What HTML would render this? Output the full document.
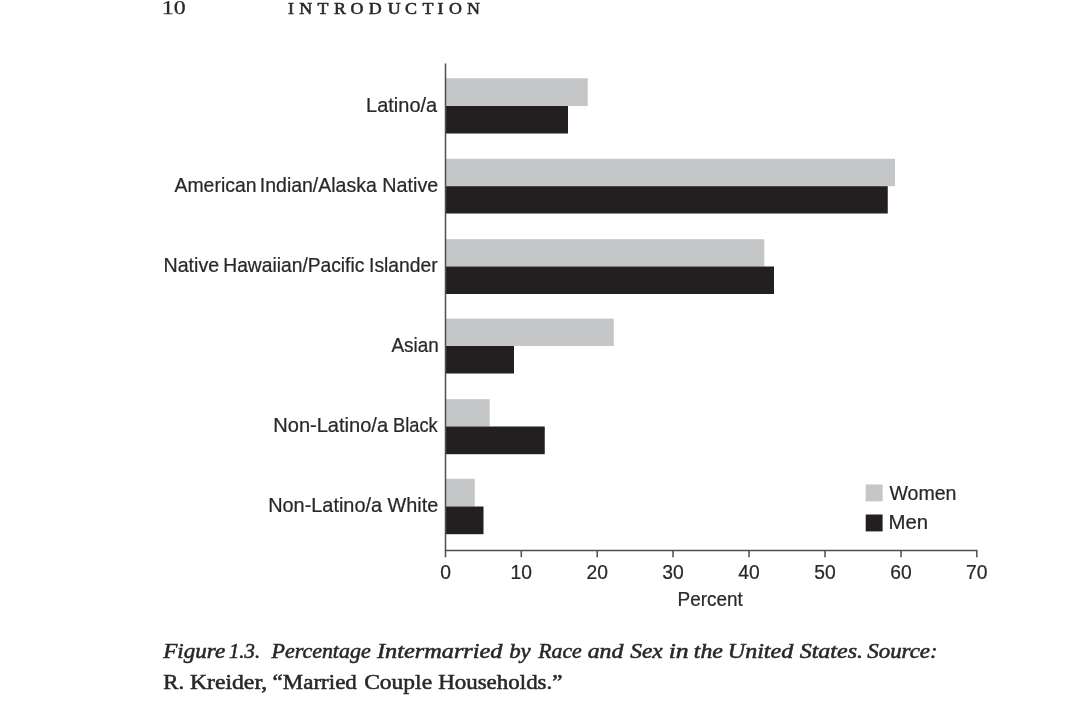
<!DOCTYPE html>
<html lang="en">
<head>
<meta charset="utf-8">
<title>Figure 1.3 — Percentage Intermarried by Race and Sex in the United States</title>
<style>
html,body{margin:0;padding:0;background:#fff;}
body{width:1080px;height:702px;overflow:hidden;}
svg{display:block;}
text{fill:#2a2728;stroke:#2a2728;stroke-width:0.22px;}
.sans{font-family:"Liberation Sans",sans-serif;}
.serif{font-family:"Liberation Serif",serif;stroke-width:0.55px;}
</style>
</head>
<body>
<svg width="1080" height="702" viewBox="0 0 1080 702">
<rect width="1080" height="702" fill="#ffffff"/>
<rect x="445.5" y="78.3" width="142.25" height="27.70" fill="#c5c6c8"/>
<rect x="445.5" y="106.0" width="122.50" height="27.50" fill="#231f20"/>
<rect x="445.5" y="158.8" width="449.50" height="27.40" fill="#c5c6c8"/>
<rect x="445.5" y="186.2" width="442.25" height="27.30" fill="#231f20"/>
<rect x="445.5" y="239.2" width="318.75" height="27.30" fill="#c5c6c8"/>
<rect x="445.5" y="266.5" width="328.50" height="27.50" fill="#231f20"/>
<rect x="445.5" y="318.6" width="168.25" height="27.40" fill="#c5c6c8"/>
<rect x="445.5" y="346.0" width="68.50" height="27.50" fill="#231f20"/>
<rect x="445.5" y="399.2" width="44.25" height="27.30" fill="#c5c6c8"/>
<rect x="445.5" y="426.5" width="99.25" height="27.70" fill="#231f20"/>
<rect x="445.5" y="478.8" width="29.25" height="27.70" fill="#c5c6c8"/>
<rect x="445.5" y="506.5" width="38.00" height="27.70" fill="#231f20"/>
<g stroke="#4f4d4e" stroke-width="1.5" fill="none">
<path d="M445.5 63.5V557.2"/>
<path d="M444.85 550.4H977.4"/>
<path d="M521.3 550.4V557.2"/>
<path d="M597.2 550.4V557.2"/>
<path d="M673.0 550.4V557.2"/>
<path d="M749.0 550.4V557.2"/>
<path d="M825.0 550.4V557.2"/>
<path d="M901.0 550.4V557.2"/>
<path d="M976.8 550.4V557.2"/>
</g>
<rect x="865.7" y="484.5" width="16.9" height="16.9" fill="#c5c6c8"/>
<rect x="865.7" y="514.5" width="16.9" height="16.9" fill="#231f20"/>
<g class="sans" font-size="19.3" text-anchor="middle">
<text x="445.5" y="578.8">0</text>
<text x="521.3" y="578.8">10</text>
<text x="597.2" y="578.8">20</text>
<text x="673.0" y="578.8">30</text>
<text x="749.0" y="578.8">40</text>
<text x="825.0" y="578.8">50</text>
<text x="901.0" y="578.8">60</text>
<text x="976.8" y="578.8">70</text>
</g>
<text class="serif" x="259.82 272.90 288.35 303.48 318.71 335.09 351.92 366.92 382.19 393.21 406.65 422.77" y="13.6" font-size="16" text-anchor="middle" transform="scale(1.12 1)">INTRODUCTION</text>
<text class="sans" font-size="19.3" y="111.8"><tspan x="366.05" textLength="71.13" lengthAdjust="spacingAndGlyphs">Latino/a</tspan></text>
<text class="sans" font-size="19.3" y="192.2"><tspan x="174.50" textLength="82.00" lengthAdjust="spacingAndGlyphs">American</tspan> <tspan x="259.83" textLength="116.88" lengthAdjust="spacingAndGlyphs">Indian/Alaska</tspan> <tspan x="382.37" textLength="55.86" lengthAdjust="spacingAndGlyphs">Native</tspan></text>
<text class="sans" font-size="19.3" y="272.1"><tspan x="163.47" textLength="55.65" lengthAdjust="spacingAndGlyphs">Native</tspan> <tspan x="223.30" textLength="141.06" lengthAdjust="spacingAndGlyphs">Hawaiian/Pacific</tspan> <tspan x="369.05" textLength="68.61" lengthAdjust="spacingAndGlyphs">Islander</tspan></text>
<text class="sans" font-size="19.3" y="352.2"><tspan x="391.50" textLength="47.21" lengthAdjust="spacingAndGlyphs">Asian</tspan></text>
<text class="sans" font-size="19.3" y="432.2"><tspan x="273.24" textLength="114.86" lengthAdjust="spacingAndGlyphs">Non-Latino/a</tspan> <tspan x="393.08" textLength="44.57" lengthAdjust="spacingAndGlyphs">Black</tspan></text>
<text class="sans" font-size="19.3" y="512.1"><tspan x="268.15" textLength="113.95" lengthAdjust="spacingAndGlyphs">Non-Latino/a</tspan> <tspan x="387.60" textLength="50.72" lengthAdjust="spacingAndGlyphs">White</tspan></text>
<text class="sans" font-size="19.3" y="499.7"><tspan x="889.40" textLength="67.11" lengthAdjust="spacingAndGlyphs">Women</tspan></text>
<text class="sans" font-size="19.3" y="529.4"><tspan x="888.52" textLength="39.62" lengthAdjust="spacingAndGlyphs">Men</tspan></text>
<text class="sans" font-size="19.3" y="606.4"><tspan x="677.52" textLength="65.38" lengthAdjust="spacingAndGlyphs">Percent</tspan></text>
<text class="serif" font-size="18.8" style="stroke-width:0.25px" y="14.0"><tspan x="161.79" textLength="23.90" lengthAdjust="spacingAndGlyphs">10</tspan></text>
<text class="serif" font-size="21.4" font-style="italic" y="658.3"><tspan x="163.27" textLength="61.90" lengthAdjust="spacingAndGlyphs">Figure</tspan> <tspan x="228.97" textLength="31.11" lengthAdjust="spacingAndGlyphs">1.3.</tspan> <tspan x="271.56" textLength="99.11" lengthAdjust="spacingAndGlyphs">Percentage</tspan> <tspan x="377.00" textLength="125.52" lengthAdjust="spacingAndGlyphs">Intermarried</tspan> <tspan x="509.20" textLength="21.55" lengthAdjust="spacingAndGlyphs">by</tspan> <tspan x="538.25" textLength="43.45" lengthAdjust="spacingAndGlyphs">Race</tspan> <tspan x="587.74" textLength="35.66" lengthAdjust="spacingAndGlyphs">and</tspan> <tspan x="630.23" textLength="32.48" lengthAdjust="spacingAndGlyphs">Sex</tspan> <tspan x="668.70" textLength="19.97" lengthAdjust="spacingAndGlyphs">in</tspan> <tspan x="693.89" textLength="29.05" lengthAdjust="spacingAndGlyphs">the</tspan> <tspan x="727.75" textLength="65.52" lengthAdjust="spacingAndGlyphs">United</tspan> <tspan x="799.72" textLength="63.27" lengthAdjust="spacingAndGlyphs">States.</tspan> <tspan x="867.23" textLength="70.43" lengthAdjust="spacingAndGlyphs">Source:</tspan></text>
<text class="serif" font-size="21.4" y="689.3"><tspan x="163.37" textLength="20.90" lengthAdjust="spacingAndGlyphs">R.</tspan> <tspan x="189.95" textLength="77.31" lengthAdjust="spacingAndGlyphs">Kreider,</tspan> <tspan x="272.63" textLength="84.23" lengthAdjust="spacingAndGlyphs">“Married</tspan> <tspan x="364.18" textLength="67.90" lengthAdjust="spacingAndGlyphs">Couple</tspan> <tspan x="438.16" textLength="124.33" lengthAdjust="spacingAndGlyphs">Households.”</tspan></text>
</svg>
</body>
</html>
